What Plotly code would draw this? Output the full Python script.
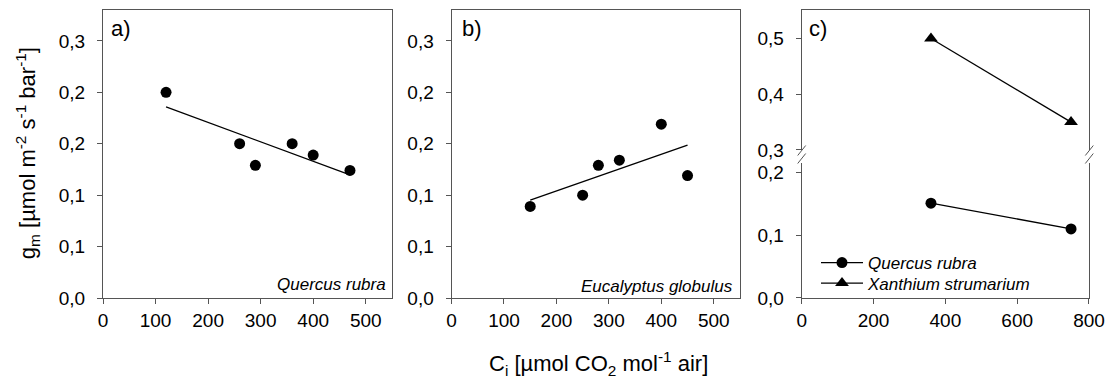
import numpy as np
import plotly.graph_objects as go

# ---- data ----
a_ci = [120, 260, 290, 360, 400, 470]
a_gm = [0.200, 0.150, 0.129, 0.150, 0.139, 0.124]

b_ci = [150, 250, 280, 320, 400, 450]
b_gm = [0.089, 0.100, 0.129, 0.134, 0.169, 0.119]

c_ci = [360, 750]
c_quercus = [0.151, 0.110]
c_xanthium = [0.500, 0.350]

ab_tickvals = [0, 0.05, 0.10, 0.15, 0.20, 0.25]
ab_ticktext = ["0,0", "0,1", "0,1", "0,2", "0,2", "0,3"]
c_low_tickvals = [0, 0.1, 0.2]
c_low_ticktext = ["0,0", "0,1", "0,2"]
c_up_tickvals = [0.3, 0.4, 0.5]
c_up_ticktext = ["0,3", "0,4", "0,5"]
ab_xticks = [0, 100, 200, 300, 400, 500]
c_xticks = [0, 200, 400, 600, 800]

FONT = "Liberation Sans, Arial, sans-serif"
AX = "#555555"

fig = go.Figure()

def fit_line(x, y):
    k, b = np.polyfit(x, y, 1)
    xs = [min(x), max(x)]
    return xs, [k * v + b for v in xs]

# panel a
fig.add_trace(go.Scatter(x=a_ci, y=a_gm, mode="markers", xaxis="x", yaxis="y",
                         marker=dict(symbol="circle", size=11, color="black"), showlegend=False))
fx, fy = fit_line(a_ci, a_gm)
fig.add_trace(go.Scatter(x=fx, y=fy, mode="lines", xaxis="x", yaxis="y",
                         line=dict(color="black", width=1.3), showlegend=False))
# panel b
fig.add_trace(go.Scatter(x=b_ci, y=b_gm, mode="markers", xaxis="x2", yaxis="y2",
                         marker=dict(symbol="circle", size=11, color="black"), showlegend=False))
fx, fy = fit_line(b_ci, b_gm)
fig.add_trace(go.Scatter(x=fx, y=fy, mode="lines", xaxis="x2", yaxis="y2",
                         line=dict(color="black", width=1.3), showlegend=False))
# panel c
fig.add_trace(go.Scatter(x=c_ci, y=c_quercus, mode="lines+markers", xaxis="x3", yaxis="y3",
                         name="<i>Quercus rubra</i>", legend="legend",
                         marker=dict(symbol="circle", size=11, color="black"),
                         line=dict(color="black", width=1.3)))
fig.add_trace(go.Scatter(x=c_ci, y=c_xanthium, mode="lines+markers", xaxis="x4", yaxis="y4",
                         name="<i>Xanthium strumarium</i>", legend="legend2",
                         marker=dict(symbol="triangle-up", size=12, color="black"),
                         line=dict(color="black", width=1.3)))

common_x = dict(showline=True, linecolor=AX, linewidth=1, ticks="outside", ticklen=5,
                tickcolor=AX, showgrid=False, zeroline=False,
                tickfont=dict(size=19, color="black", family=FONT))
common_y = dict(showline=True, linecolor=AX, linewidth=1, ticks="outside", ticklen=5,
                tickcolor=AX, showgrid=False, zeroline=False, mirror=True,
                ticklabelstandoff=8,
                tickfont=dict(size=19, color="black", family=FONT))

dA = [0, 0.2931]
dB = [0.3535, 0.6460]
dC = [0.7086, 1.0]
low_top = 0.469
up_bot = 0.514

leg_common = dict(xanchor="left", yanchor="top", bgcolor="rgba(0,0,0,0)",
                  font=dict(size=17, family=FONT, color="black"), itemwidth=42)

fig.update_layout(
    width=1114, height=380,
    margin=dict(l=103, r=25, t=10, b=82),
    paper_bgcolor="white", plot_bgcolor="white",
    font=dict(family=FONT, color="black"),
    xaxis=dict(common_x, domain=dA, anchor="y", range=[0, 550], tickvals=ab_xticks, mirror=True),
    yaxis=dict(common_y, domain=[0, 1], anchor="x", range=[0, 0.28],
               tickvals=ab_tickvals, ticktext=ab_ticktext),
    xaxis2=dict(common_x, domain=dB, anchor="y2", range=[0, 550], tickvals=ab_xticks, mirror=True),
    yaxis2=dict(common_y, domain=[0, 1], anchor="x2", range=[0, 0.28],
                tickvals=ab_tickvals, ticktext=ab_ticktext),
    xaxis3=dict(common_x, domain=dC, anchor="y3", range=[0, 800], tickvals=c_xticks),
    yaxis3=dict(common_y, domain=[0, low_top], anchor="x3", range=[0, 0.215],
                tickvals=c_low_tickvals, ticktext=c_low_ticktext),
    xaxis4=dict(showline=True, linecolor=AX, linewidth=1, domain=dC, anchor="y4",
                range=[0, 800], side="top", showticklabels=False, ticks="",
                showgrid=False, zeroline=False),
    yaxis4=dict(common_y, domain=[up_bot, 1], anchor="x4", range=[0.3, 0.551],
                tickvals=c_up_tickvals, ticktext=c_up_ticktext),
    legend=dict(leg_common, x=(816 - 103) / 986, y=(298 - 245) / 288),
    legend2=dict(leg_common, x=(816 - 103) / 986, y=(298 - 265.5) / 288),
)

ann = []
ann.append(dict(text="g<sub>m</sub> [µmol m<sup>-2</sup> s<sup>-1</sup> bar<sup>-1</sup>]",
                xref="paper", yref="paper", x=(27 - 103) / 986, y=0.503, textangle=-90,
                showarrow=False, font=dict(size=22, family=FONT), xanchor="center", yanchor="middle"))
ann.append(dict(text="C<sub>i</sub> [µmol CO<sub>2</sub> mol<sup>-1</sup> air]",
                xref="paper", yref="paper", x=(598 - 103) / 986, y=(298 - 363) / 288,
                showarrow=False, font=dict(size=22, family=FONT), xanchor="center", yanchor="middle"))
for lab, xp in [("a)", 109), ("b)", 460), ("c)", 807)]:
    ann.append(dict(text=lab, xref="paper", yref="paper", x=(xp - 103) / 986, y=(298 - 29) / 288,
                    showarrow=False, font=dict(size=22, family=FONT), xanchor="left", yanchor="middle"))
ann.append(dict(text="<i>Quercus rubra</i>", xref="paper", yref="paper", x=(388 - 103) / 986,
                y=(298 - 284) / 288, showarrow=False, font=dict(size=17, family=FONT),
                xanchor="right", yanchor="middle"))
ann.append(dict(text="<i>Eucalyptus globulus</i>", xref="paper", yref="paper", x=(735 - 103) / 986,
                y=(298 - 286) / 288, showarrow=False, font=dict(size=17, family=FONT),
                xanchor="right", yanchor="middle"))
fig.update_layout(annotations=ann)

# axis-break marks on panel c
shapes = []
pw, ph = 986.0, 288.0
for xpix in (801.7, 1089.3):
    xp = (xpix - 103) / pw
    for ypix in (150.5, 158.5):
        yc = (298 - ypix) / ph
        shapes.append(dict(type="line", xref="paper", yref="paper",
                           x0=xp - 4 / pw, y0=yc - 5 / ph, x1=xp + 4 / pw, y1=yc + 5 / ph,
                           line=dict(color=AX, width=1)))
fig.update_layout(shapes=shapes)

fig.write_html("out.html")
